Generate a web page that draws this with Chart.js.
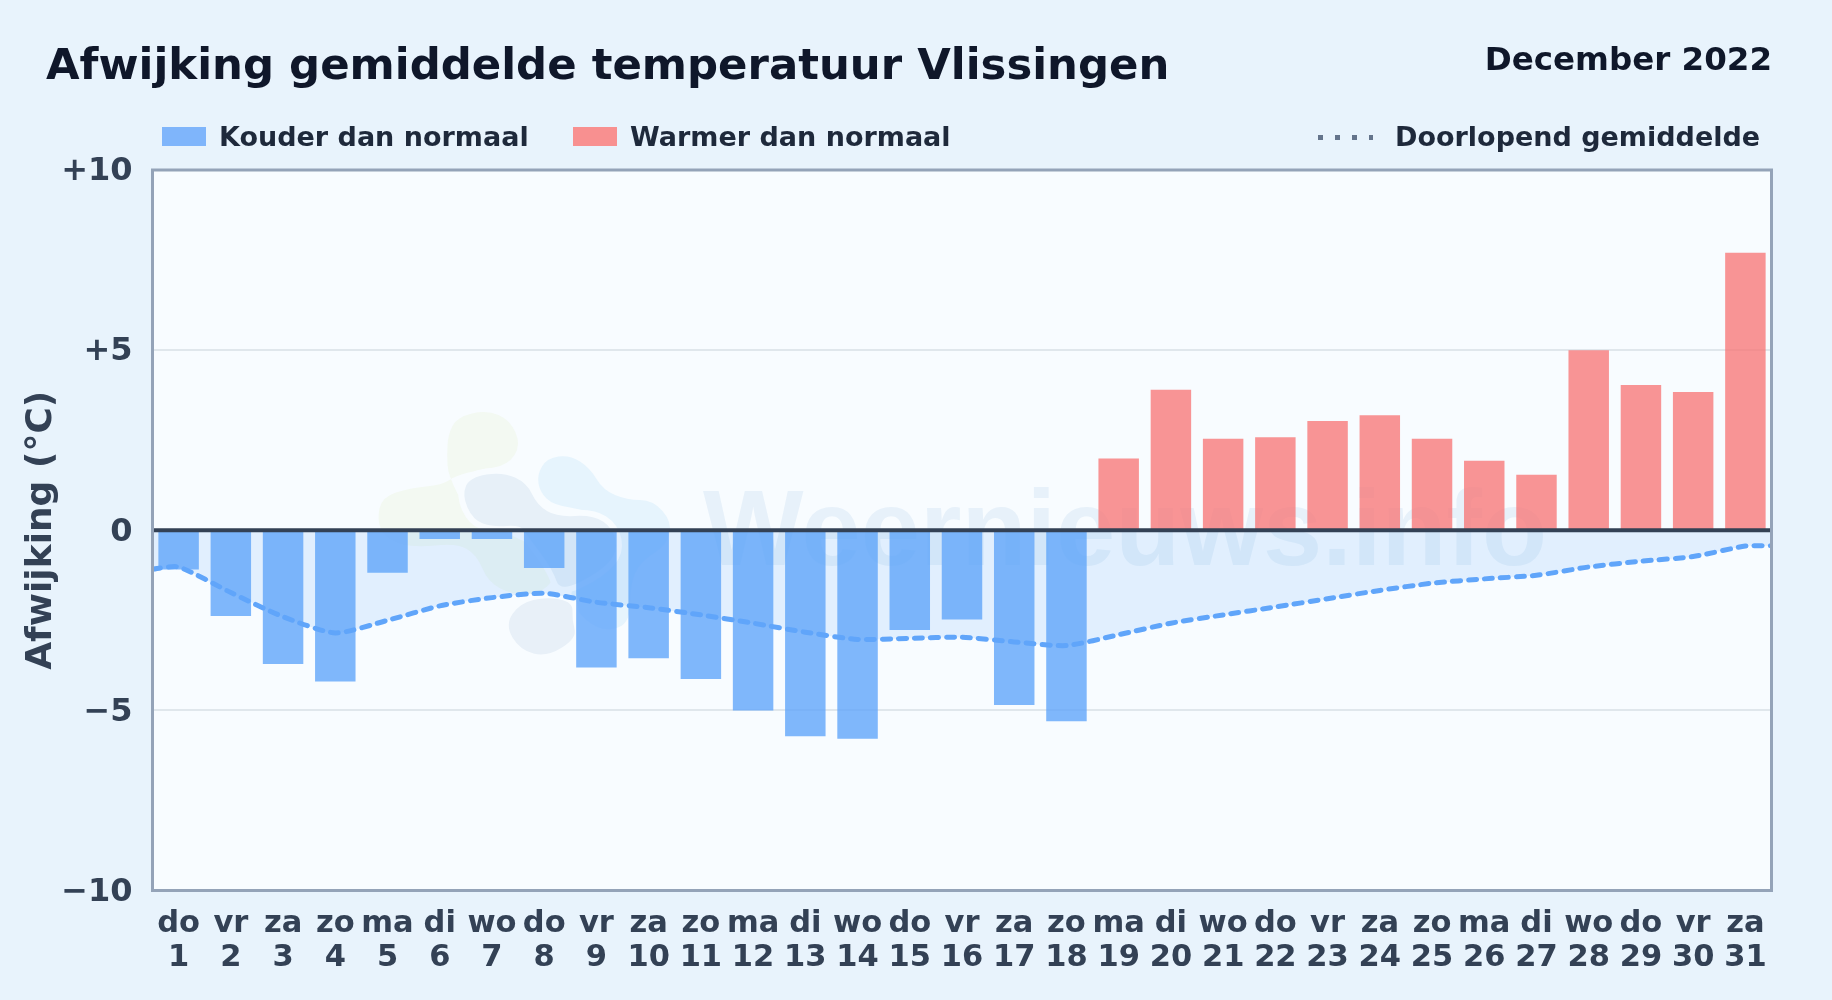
<!DOCTYPE html>
<html lang="nl">
<head>
<meta charset="utf-8">
<title>Afwijking gemiddelde temperatuur Vlissingen</title>
<script src="https://cdn.jsdelivr.net/npm/chart.js@4/dist/chart.umd.min.js"></script>
<style>
  html, body { margin: 0; padding: 0; background: #e8f3fc; }
  body { position: relative; width: 1832px; height: 1000px; overflow: hidden; font-family: "DejaVu Sans", sans-serif; font-weight: bold; }
  canvas { position: absolute; left: 0; top: 0; }
  .txt { position: absolute; white-space: nowrap; line-height: 1; }
  #titel { left: 46px; top: 43px; font-size: 43.4px; color: #0f172a; }
  #maand { right: 60px; top: 43px; font-size: 32.5px; color: #0f172a; }
  .leg { font-size: 27px; color: #1e293b; top: 122.5px; }
  .swatch { position: absolute; top: 127px; height: 19px; width: 44px; }
  #dots { position: absolute; left: 1318px; top: 135px; width: 55px; height: 5px; background: repeating-linear-gradient(90deg, #64748b 0 5px, transparent 5px 17px); }
</style>
</head>
<body>
<canvas id="grafiek" width="1832" height="1000"></canvas>
<div class="txt" id="titel">Afwijking gemiddelde temperatuur Vlissingen</div>
<div class="txt" id="maand">December 2022</div>
<div class="swatch" style="left:162px;background:#7fb5fb"></div>
<div class="txt leg" style="left:219px">Kouder dan normaal</div>
<div class="swatch" style="left:573px;background:#f89090"></div>
<div class="txt leg" style="left:630px">Warmer dan normaal</div>
<div id="dots"></div>
<div class="txt leg" style="left:1395px">Doorlopend gemiddelde</div>
<script>
const dagen = ["do","vr","za","zo","ma","di","wo","do","vr","za","zo","ma","di","wo","do","vr","za","zo","ma","di","wo","do","vr","za","zo","ma","di","wo","do","vr","za"];
const datums = [1,2,3,4,5,6,7,8,9,10,11,12,13,14,15,16,17,18,19,20,21,22,23,24,25,26,27,28,29,30,31];
const afwijking = [-1.09,-2.38,-3.71,-4.2,-1.18,-0.24,-0.24,-1.05,-3.81,-3.55,-4.13,-5.0,-5.72,-5.79,-2.77,-2.48,-4.85,-5.3,1.99,3.9,2.54,2.58,3.03,3.19,2.54,1.93,1.54,5.0,4.03,3.84,7.7];
const gemiddelde = [-1.02,-1.73,-2.4,-2.85,-2.5,-2.1,-1.87,-1.75,-2.0,-2.15,-2.35,-2.58,-2.83,-3.03,-3.0,-2.97,-3.1,-3.2,-2.9,-2.58,-2.35,-2.13,-1.9,-1.67,-1.47,-1.35,-1.25,-1.02,-0.86,-0.73,-0.44];
const gemiddeldeLinks = -1.08;
const gemiddeldeRechts = -0.43;
const yTicks = [-10,-5,0,5,10];

const labels = dagen.map((d, i) => [d, String(datums[i])]);
const kouder = afwijking.map(v => v < 0 ? v : null);
const warmer = afwijking.map(v => v >= 0 ? v : null);
// lijn loopt door tot de randen van het plotvlak
const lijnPunten = [
  { x: 0.5, y: gemiddeldeLinks },
  ...gemiddelde.map((v, i) => ({ x: datums[i], y: v })),
  { x: 31.5, y: gemiddeldeRechts }
];

function tekenBlob(ctx, punten, kleur, rand) {
  ctx.fillStyle = kleur;
  ctx.beginPath();
  const n = punten.length;
  ctx.moveTo((punten[n-1][0] + punten[0][0]) / 2, (punten[n-1][1] + punten[0][1]) / 2);
  for (let i = 0; i < n; i++) {
    const p = punten[i], q = punten[(i + 1) % n];
    ctx.quadraticCurveTo(p[0], p[1], (p[0] + q[0]) / 2, (p[1] + q[1]) / 2);
  }
  ctx.closePath();
  if (rand) {
    ctx.strokeStyle = "#f8fcff";
    ctx.lineWidth = 12;
    ctx.stroke();
  }
  ctx.fill();
}

const watermerk = {
  id: "watermerk",
  beforeDatasetsDraw(chart) {
    const ctx = chart.ctx;
    ctx.save();
    tekenBlob(ctx, [[448,435],[457,417],[487,410],[510,420],[521,445],[508,465],[480,470],[457,475],[442,485],[410,488],[382,497],[377,520],[385,538],[413,548],[457,543],[477,555],[488,582],[513,595],[543,593],[558,572],[547,552],[510,535],[467,512],[448,475],[447,455]], "#f3f9f2");
    tekenBlob(ctx, [[537,475],[547,458],[570,455],[590,468],[603,490],[627,500],[653,500],[672,522],[667,545],[640,562],[630,585],[630,625],[600,632],[573,608],[570,585],[600,578],[623,555],[617,528],[587,510],[553,505],[540,492]], "#e6f4fd");
    tekenBlob(ctx, [[462,495],[470,477],[503,472],[527,483],[537,505],[557,517],[593,515],[613,528],[618,552],[600,572],[560,592],[553,570],[527,535],[520,525],[493,527],[473,520]], "#e7f0f8", true);
    tekenBlob(ctx, [[505,625],[520,603],[547,597],[573,602],[572,620],[577,638],[547,657],[520,650]], "#e8f0f8", true);
    ctx.fillStyle = "#e7f1fa";
    ctx.font = "bold 107px 'Liberation Sans', sans-serif";
    ctx.textAlign = "left";
    ctx.textBaseline = "alphabetic";
    ctx.fillText("Weernieuws.info", 703, 565, 844);
    ctx.restore();
  }
};

const plotAchtergrond = {
  id: "plotAchtergrond",
  beforeDraw(chart) {
    const { ctx, chartArea: a } = chart;
    ctx.save();
    ctx.fillStyle = "#f8fcff";
    ctx.fillRect(a.left, a.top, a.width, a.height);
    ctx.restore();
  }
};

const nulLijn = {
  id: "nulLijn",
  afterDatasetsDraw(chart) {
    const { ctx, chartArea: a, scales } = chart;
    const y = scales.y.getPixelForValue(0);
    ctx.save();
    ctx.strokeStyle = "#334155";
    ctx.lineWidth = 4;
    ctx.beginPath();
    ctx.moveTo(a.left, y);
    ctx.lineTo(a.right, y);
    ctx.stroke();
    ctx.strokeStyle = "#94a3b8";
    ctx.lineWidth = 3;
    ctx.strokeRect(a.left, a.top, a.width, a.height);
    ctx.restore();
  }
};

Chart.defaults.font.family = "'DejaVu Sans', sans-serif";
Chart.defaults.font.weight = "bold";

new Chart(document.getElementById("grafiek").getContext("2d"), {
  data: {
    labels: labels,
    datasets: [
      {
        type: "line",
        label: "Doorlopend gemiddelde",
        data: lijnPunten,
        xAxisID: "xLijn",
        borderColor: "#60a5fa",
        borderWidth: 5,
        borderDash: [8, 8],
        borderCapStyle: "round",
        backgroundColor: "rgba(96,165,250,0.15)",
        fill: "origin",
        tension: 0.22,
        pointRadius: 0,
        order: 1
      },
      {
        type: "bar",
        label: "Kouder dan normaal",
        data: kouder,
        backgroundColor: "rgba(96,165,250,0.8)",
        grouped: false,
        categoryPercentage: 1,
        barPercentage: 0.775,
        order: 2
      },
      {
        type: "bar",
        label: "Warmer dan normaal",
        data: warmer,
        backgroundColor: "rgba(248,113,113,0.75)",
        grouped: false,
        categoryPercentage: 1,
        barPercentage: 0.775,
        order: 2
      }
    ]
  },
  options: {
    responsive: false,
    devicePixelRatio: 1,
    animation: false,
    layout: { padding: { left: 0, top: 170, right: 60.5, bottom: 0 } },
    plugins: { legend: { display: false }, tooltip: { enabled: false } },
    scales: {
      x: {
        type: "category",
        offset: true,
        grid: { display: false, drawTicks: false },
        border: { display: false },
        afterFit: s => { s.height = 109.5; },
        ticks: {
          autoSkip: false,
          maxRotation: 0,
          minRotation: 0,
          padding: 16,
          color: "#334155",
          font: { size: 30.5, lineHeight: 1.12 }
        }
      },
      xLijn: { type: "linear", display: false, min: 0.5, max: 31.5 },
      y: {
        min: -10,
        max: 10,
        afterFit: s => { s.width = 152.5; },
        afterBuildTicks: s => { s.ticks = yTicks.map(v => ({ value: v })); },
        border: { display: false },
        grid: {
          drawTicks: false,
          color: c => (Math.abs(c.tick.value) === 5 ? "#e0e7ec" : "transparent"),
          lineWidth: 2
        },
        ticks: {
          padding: 20,
          labelOffset: 2,
          color: "#334155",
          font: { size: 32 },
          callback: v => (v > 0 ? "+" + v : v < 0 ? "\u2212" + Math.abs(v) : "0")
        },
        title: {
          display: true,
          text: "Afwijking (\u00b0C)",
          color: "#334155",
          font: { size: 36 },
          padding: { top: 20, bottom: 0 }
        }
      }
    }
  },
  plugins: [plotAchtergrond, watermerk, nulLijn]
});
</script>
</body>
</html>
